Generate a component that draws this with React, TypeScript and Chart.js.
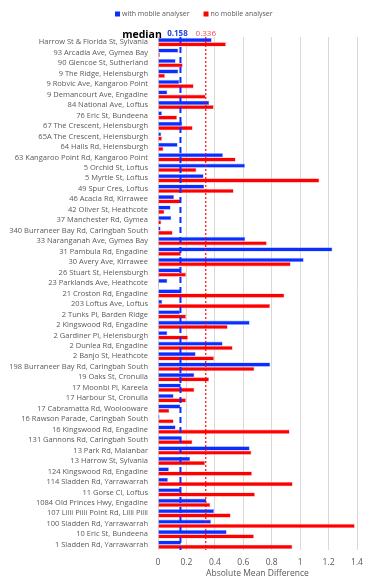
import React, { useEffect, useRef } from "react";
import { Chart, registerables } from "chart.js";

Chart.register(...registerables);

const categories = [
  "Harrow St & Florida St, Sylvania",
  "93 Arcadia Ave, Gymea Bay",
  "90 Glencoe St, Sutherland",
  "9 The Ridge, Helensburgh",
  "9 Robvic Ave, Kangaroo Point",
  "9 Demancourt Ave, Engadine",
  "84 National Ave, Loftus",
  "76 Eric St, Bundeena",
  "67 The Crescent, Helensburgh",
  "65A The Crescent, Helensburgh",
  "64 Halls Rd, Helensburgh",
  "63 Kangaroo Point Rd, Kangaroo Point",
  "5 Orchid St, Loftus",
  "5 Myrtle St, Loftus",
  "49 Spur Cres, Loftus",
  "46 Acacia Rd, Kirrawee",
  "42 Oliver St, Heathcote",
  "37 Manchester Rd, Gymea",
  "340 Burraneer Bay Rd, Caringbah South",
  "33 Naranganah Ave, Gymea Bay",
  "31 Pambula Rd, Engadine",
  "30 Avery Ave, Kirrawee",
  "26 Stuart St, Helensburgh",
  "23 Parklands Ave, Heathcote",
  "21 Croston Rd, Engadine",
  "203 Loftus Ave, Loftus",
  "2 Tunks Pl, Barden Ridge",
  "2 Kingswood Rd, Engadine",
  "2 Gardiner Pl, Helensburgh",
  "2 Dunlea Rd, Engadine",
  "2 Banjo St, Heathcote",
  "198 Burraneer Bay Rd, Caringbah South",
  "19 Oaks St, Cronulla",
  "17 Moonbi Pl, Kareela",
  "17 Harbour St, Cronulla",
  "17 Cabramatta Rd, Woolooware",
  "16 Rawson Parade, Caringbah South",
  "16 Kingswood Rd, Engadine",
  "131 Gannons Rd, Caringbah South",
  "13 Park Rd, Maianbar",
  "13 Harrow St, Sylvania",
  "124 Kingswood Rd, Engadine",
  "114 Sladden Rd, Yarrawarrah",
  "11 Gorse Cl, Loftus",
  "1084 Old Princes Hwy, Engadine",
  "107 Lilli Pilli Point Rd, Lilli Pilli",
  "100 Sladden Rd, Yarrawarrah",
  "10 Eric St, Bundeena",
  "1 Sladden Rd, Yarrawarrah",
];

const withAnalyser = [
  0.378, 0.143, 0.124, 0.143, 0.15, 0.066, 0.361, 0.028, 0.171, 0.023,
  0.138, 0.457, 0.612, 0.321, 0.326, 0.113, 0.089, 0.094, 0.019, 0.614,
  1.227, 1.025, 0.162, 0.066, 0.162, 0.03, 0.155, 0.645, 0.066, 0.455,
  0.265, 0.79, 0.256, 0.162, 0.11, 0.158, 0.012, 0.124, 0.167, 0.645,
  0.227, 0.077, 0.07, 0.162, 0.342, 0.394, 0.373, 0.483, 0.162,
];

const noAnalyser = [
  0.478, 0.014, 0.174, 0.049, 0.251, 0.335, 0.392, 0.134, 0.244, 0.028,
  0.038, 0.546, 0.27, 1.135, 0.532, 0.162, 0.045, 0.023, 0.103, 0.765,
  0.162, 0.933, 0.197, 0.007, 0.889, 0.788, 0.197, 0.49, 0.211, 0.525,
  0.394, 0.678, 0.359, 0.256, 0.197, 0.08, 0.11, 0.926, 0.242, 0.657,
  0.331, 0.661, 0.947, 0.682, 0.368, 0.511, 1.384, 0.675, 0.945,
];

const seriesNames = ["with mobile analyser", "no mobile analyser"];
const seriesColors = ["#0a2eff", "#ff0000"];
const medians = [0.158, 0.336];
const medianLabels = ["0.158", "0.336"];
const xMin = 0;
const xMax = 1.4;
const xStep = 0.2;
const axisTitle = "Absolute Mean Difference";

const FONT = "'Open Sans', 'Liberation Sans', sans-serif";

const overlayPlugin = {
  id: "overlay",
  afterDatasetsDraw(chart: any) {
    const { ctx, chartArea, scales } = chart;
    const x = scales.x;
    ctx.save();
    // blue dashed median
    const bx = x.getPixelForValue(medians[0]);
    ctx.strokeStyle = "#0a2eff";
    ctx.lineWidth = 2;
    ctx.setLineDash([6, 4]);
    ctx.beginPath();
    ctx.moveTo(bx, chartArea.top);
    ctx.lineTo(bx, chartArea.bottom);
    ctx.stroke();
    // red dotted median
    const rx = x.getPixelForValue(medians[1]);
    ctx.strokeStyle = "#ff0000";
    ctx.lineWidth = 1.2;
    ctx.setLineDash([2, 2]);
    ctx.beginPath();
    ctx.moveTo(rx, chartArea.top);
    ctx.lineTo(rx, chartArea.bottom);
    ctx.stroke();
    ctx.setLineDash([]);

    // labels
    ctx.textBaseline = "alphabetic";
    ctx.textAlign = "center";
    ctx.font = `bold 10.5px ${FONT}`;
    ctx.fillStyle = "#000";
    ctx.fillText("median", chartArea.left - 16, chartArea.top + 1);
    ctx.font = `bold 8px ${FONT}`;
    ctx.fillStyle = "#2848e0";
    ctx.fillText(medianLabels[0], bx - 3, chartArea.top - 1);
    ctx.fillStyle = "#f05050";
    ctx.font = `8px ${FONT}`;
    ctx.fillText(medianLabels[1], rx, chartArea.top - 1);

    // legend
    ctx.font = `7px ${FONT}`;
    ctx.textAlign = "left";
    ctx.textBaseline = "middle";
    const ly = 14;
    let lx = 115;
    seriesNames.forEach((name, i) => {
      ctx.fillStyle = seriesColors[i];
      ctx.fillRect(lx, ly - 2.5, 5, 5);
      ctx.fillStyle = "#595959";
      ctx.fillText(name, lx + 7, ly);
      lx += 7 + ctx.measureText(name).width + 14;
    });
    ctx.restore();
  },
};

export default function App() {
  const ref = useRef<HTMLCanvasElement>(null);
  useEffect(() => {
    document.body.style.margin = "0";
    const chart = new Chart(ref.current!, {
      type: "bar",
      data: {
        labels: categories,
        datasets: [
          {
            label: seriesNames[0],
            data: withAnalyser,
            backgroundColor: seriesColors[0],
            borderColor: "rgba(140,160,255,0.9)",
            borderWidth: 0.6,
            categoryPercentage: 0.82,
            barPercentage: 1,
          },
          {
            label: seriesNames[1],
            data: noAnalyser,
            backgroundColor: seriesColors[1],
            borderColor: "rgba(255,140,140,0.9)",
            borderWidth: 0.6,
            categoryPercentage: 0.82,
            barPercentage: 1,
          },
        ],
      },
      options: {
        indexAxis: "y",
        responsive: false,
        animation: false,
        layout: { padding: { top: 37, left: 0, right: 20, bottom: 0 } },
        plugins: {
          legend: { display: false },
          tooltip: { enabled: false },
        },
        scales: {
          x: {
            min: xMin,
            max: xMax,
            ticks: {
              stepSize: xStep,
              color: "#595959",
              font: { size: 8.5, family: FONT },
              padding: 7,
              callback: (v: any) => String(+Number(v).toFixed(1)),
            },
            grid: { color: "#d9d9d9", drawTicks: false, lineWidth: 1 },
            border: { display: false },
            title: {
              display: true,
              text: axisTitle,
              color: "#595959",
              font: { size: 8.5, family: FONT },
              padding: { top: 2, bottom: 8 },
            },
            afterFit: (scale: any) => {
              scale.height = 37;
            },
          },
          y: {
            ticks: {
              color: "#595959",
              font: { size: 7.5, family: FONT },
              autoSkip: false,
              padding: 10,
            },
            grid: { display: false, drawTicks: false },
            border: { display: false },
            afterFit: (scale: any) => {
              scale.width = 158;
            },
          },
        },
      },
      plugins: [overlayPlugin],
    });
    return () => chart.destroy();
  }, []);
  return (
    <div style={{ position: "absolute", left: 0, top: 0, width: 377, height: 587 }}>
      <canvas ref={ref} width={377} height={587} style={{ width: 377, height: 587 }} />
    </div>
  );
}
